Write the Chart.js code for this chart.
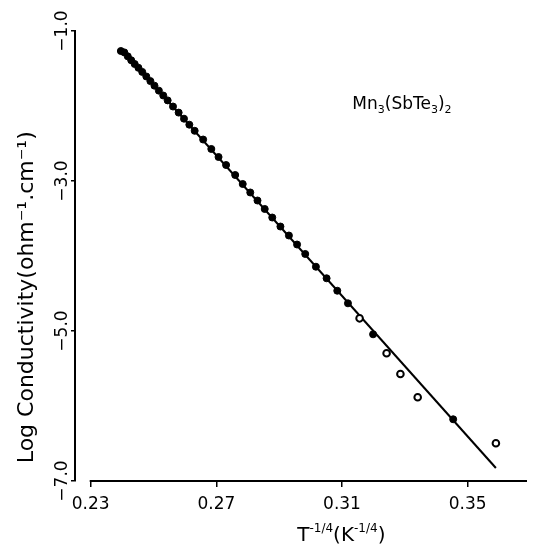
<!DOCTYPE html>
<html>
<head>
<meta charset="utf-8">
<script src="https://cdn.jsdelivr.net/npm/chart.js@4.4.1/dist/chart.umd.min.js"></script>
<style>
  html, body { margin: 0; padding: 0; background: #ffffff; }
  #wrap { width: 533px; height: 546px; }
</style>
</head>
<body>
<div id="wrap"><canvas id="c" width="533" height="546"></canvas></div>
<script>
// ---- data ----
const xTickValues = [0.23, 0.27, 0.31, 0.35];
const xTickLabels = ["0.23", "0.27", "0.31", "0.35"];
const yTickValues = [-1, -3, -5, -7];
const yTickLabels = ["\u22121.0", "\u22123.0", "\u22125.0", "\u22127.0"];
const xRange = [0.2250, 0.3689];
const yRange = [-7, -1];

// filled (solid) measurement points: T^-1/4 and log conductivity
const filledX = [0.2396, 0.2407, 0.2418, 0.2429, 0.2440, 0.2452, 0.2464, 0.2477, 0.2490, 0.2503,
                 0.2517, 0.2531, 0.2545, 0.2562, 0.2580, 0.2597, 0.2614, 0.2631, 0.2658, 0.2684,
                 0.2707, 0.2731, 0.2760, 0.2784, 0.2808, 0.2831, 0.2854, 0.2878, 0.2904, 0.2931,
                 0.2957, 0.2983, 0.3017, 0.3051, 0.3085, 0.3119, 0.3199, 0.3454];
const filledY = [-1.267, -1.285, -1.338, -1.390, -1.440, -1.491, -1.545, -1.606, -1.668, -1.729,
                 -1.795, -1.860, -1.925, -2.007, -2.088, -2.169, -2.249, -2.331, -2.447, -2.573,
                 -2.680, -2.787, -2.920, -3.040, -3.153, -3.260, -3.373, -3.487, -3.607, -3.727,
                 -3.847, -3.973, -4.143, -4.297, -4.463, -4.631, -5.044, -6.177];

// open-circle measurement points
const openX = [0.3156, 0.3242, 0.3286, 0.3341, 0.3590];
const openY = [-4.831, -5.297, -5.573, -5.884, -6.497];

// straight-line fit
const fitX = [0.2396, 0.3590];
const fitY = [-1.233, -6.827];

// texts
const yTitle = "Log Conductivity(ohm\u207B\u00B9.cm\u207B\u00B9)";
const xTitleParts = [["T", 0], ["-1/4", 1], ["(K", 0], ["-1/4", 1], [")", 0]];
const compoundParts = [["Mn", 0], ["3", -1], ["(SbTe", 0], ["3", -1], [")", 0], ["2", -1]];
const compoundAt = [0.3133, -2.04];

const FONT = "'DejaVu Sans', 'Liberation Sans', sans-serif";

function pts(xs, ys) { return xs.map((x, i) => ({ x: x, y: ys[i] })); }

function drawParts(ctx, parts, x, y, size, supSize, supShift, subShift) {
  let cx = x;
  parts.forEach(p => {
    const s = p[1] === 0 ? size : supSize;
    ctx.font = s + "px " + FONT;
    let dy = 0;
    if (p[1] === 1) dy = -supShift;
    if (p[1] === -1) dy = subShift;
    ctx.fillText(p[0], cx, y + dy);
    cx += ctx.measureText(p[0]).width;
  });
}

function partsWidth(ctx, parts, size, supSize) {
  let w = 0;
  parts.forEach(p => {
    ctx.font = (p[1] === 0 ? size : supSize) + "px " + FONT;
    w += ctx.measureText(p[0]).width;
  });
  return w;
}

const decor = {
  id: 'decor',
  afterDraw(chart) {
    const ctx = chart.ctx;
    const xs = chart.scales.x, ys = chart.scales.y;
    const area = chart.chartArea;
    ctx.save();
    // x axis line, starting at the first tick
    ctx.strokeStyle = '#000';
    ctx.lineWidth = 2;
    ctx.beginPath();
    ctx.moveTo(xs.getPixelForValue(xTickValues[0]) - 1, area.bottom);
    ctx.lineTo(area.right, area.bottom);
    ctx.stroke();

    ctx.fillStyle = '#000';
    ctx.textBaseline = 'alphabetic';
    ctx.textAlign = 'left';

    // x title (centered)
    const w = partsWidth(ctx, xTitleParts, 20, 12);
    const xc = xs.getPixelForValue(0.3098);
    drawParts(ctx, xTitleParts, xc - w / 2, chart.height - 5, 20, 12, 9, 0);

    // y title (rotated)
    ctx.save();
    ctx.font = "22px " + FONT;
    ctx.translate(33, ys.getPixelForValue(-4.55));
    ctx.rotate(-Math.PI / 2);
    ctx.textAlign = 'center';
    ctx.fillText(yTitle, 0, 0);
    ctx.restore();

    // compound label
    ctx.textAlign = 'left';
    drawParts(ctx, compoundParts, xs.getPixelForValue(compoundAt[0]), ys.getPixelForValue(compoundAt[1]), 17, 11, 0, 4);
    ctx.restore();
  }
};

new Chart(document.getElementById('c'), {
  type: 'scatter',
  data: {
    datasets: [
      {
        type: 'line',
        label: 'fit',
        data: pts(fitX, fitY),
        borderColor: '#000',
        borderWidth: 2,
        pointRadius: 0,
        fill: false,
        showLine: true,
        order: 3
      },
      {
        label: 'filled',
        data: pts(filledX, filledY),
        backgroundColor: '#000',
        borderColor: '#000',
        borderWidth: 1,
        pointRadius: 3.5,
        showLine: false,
        order: 2
      },
      {
        label: 'open',
        data: pts(openX, openY),
        backgroundColor: '#fff',
        borderColor: '#000',
        borderWidth: 2,
        pointRadius: 3.3,
        showLine: false,
        order: 1
      }
    ]
  },
  options: {
    responsive: false,
    animation: false,
    devicePixelRatio: 1,
    layout: { padding: { top: 31, right: 0, left: 0, bottom: 0 } },
    plugins: { legend: { display: false }, tooltip: { enabled: false }, title: { display: false } },
    scales: {
      x: {
        type: 'linear',
        min: xRange[0],
        max: xRange[1],
        afterBuildTicks: s => { s.ticks = xTickValues.map(v => ({ value: v })); },
        afterFit: s => { s.height = 65; },
        border: { display: false },
        grid: { drawOnChartArea: false, drawTicks: true, tickLength: 6, color: '#000', lineWidth: 1.5 },
        ticks: {
          color: '#000',
          font: { family: FONT, size: 17 },
          padding: 7,
          maxRotation: 0,
          autoSkip: false,
          callback: (v) => { const i = xTickValues.indexOf(v); return i >= 0 ? xTickLabels[i] : ''; }
        }
      },
      y: {
        type: 'linear',
        min: yRange[0],
        max: yRange[1],
        afterBuildTicks: s => { s.ticks = yTickValues.map(v => ({ value: v })); },
        afterFit: s => { s.width = 75; },
        border: { display: true, color: '#000', width: 2 },
        grid: { drawOnChartArea: false, drawTicks: true, tickLength: 4, color: '#000', lineWidth: 1.5 },
        ticks: {
          color: '#000',
          font: { family: FONT, size: 17 },
          minRotation: 90,
          maxRotation: 90,
          crossAlign: 'center',
          padding: -12.5,
          autoSkip: false,
          callback: (v) => { const i = yTickValues.indexOf(v); return i >= 0 ? yTickLabels[i] : ''; }
        }
      }
    }
  },
  plugins: [decor]
});
</script>
</body>
</html>
